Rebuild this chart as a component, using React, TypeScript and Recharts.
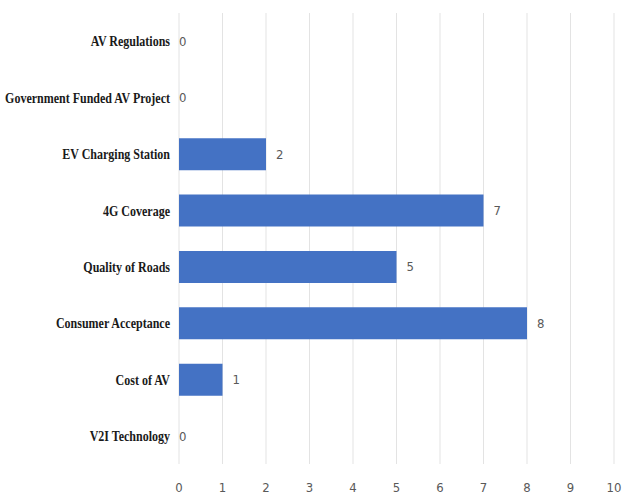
import { BarChart, Bar, XAxis, YAxis, CartesianGrid, LabelList } from "recharts";

const categories = [
  "AV Regulations",
  "Government Funded AV Project",
  "EV Charging Station",
  "4G Coverage",
  "Quality of Roads",
  "Consumer Acceptance",
  "Cost of AV",
  "V2I Technology",
];
const counts = [0, 0, 2, 7, 5, 8, 1, 0];
const xTicks = [0, 1, 2, 3, 4, 5, 6, 7, 8, 9, 10];

const data = categories.map((name, i) => ({ name, value: counts[i] }));

const numFont = "'DejaVu Sans Condensed', 'DejaVu Sans', sans-serif";

function CategoryTick({ x, y, payload }: any) {
  return (
    <g transform={`translate(${x},${y})`}>
      <text
        transform="scale(0.8,1)"
        textAnchor="end"
        dy="0.35em"
        fill="#1a1a1a"
        fontFamily="'Liberation Serif', 'Times New Roman', serif"
        fontSize={15}
        fontWeight={600}
      >
        {payload.value}
      </text>
    </g>
  );
}

// custom label so the zero bars still get their "0"
function ValueLabel(props: any) {
  const { x, y, width, height, value } = props;
  const px = Number(x) + Number(width || 0) + (value === 0 ? 0 : 10);
  const py = Number(y) + Number(height || 0) / 2;
  return (
    <text x={px} y={py} dy="0.35em" fill="#595959" fontSize={13} fontFamily={numFont}>
      {value}
    </text>
  );
}

export default function App() {
  return (
    <div style={{ position: "absolute", left: 0, top: 0, background: "#fff" }}>
      <BarChart
        width={622}
        height={499}
        data={data}
        layout="vertical"
        margin={{ top: 13, right: 8, bottom: 4, left: 0 }}
        barCategoryGap="22%"
      >
        <CartesianGrid horizontal={false} stroke="#e3e3e3" />
        <XAxis
          type="number"
          domain={[0, 10]}
          ticks={xTicks}
          axisLine={false}
          tickLine={false}
          tickSize={0}
          tickMargin={19}
          height={31}
          tick={{ fill: "#595959", fontSize: 13, fontFamily: numFont }}
        />
        <YAxis
          type="category"
          dataKey="name"
          width={179}
          axisLine={false}
          tickLine={false}
          tickSize={0}
          tickMargin={9}
          tick={<CategoryTick />}
        />
        <Bar dataKey="value" fill="#4472C4" minPointSize={0.01} isAnimationActive={false}>
          <LabelList dataKey="value" content={<ValueLabel />} />
        </Bar>
      </BarChart>
    </div>
  );
}
